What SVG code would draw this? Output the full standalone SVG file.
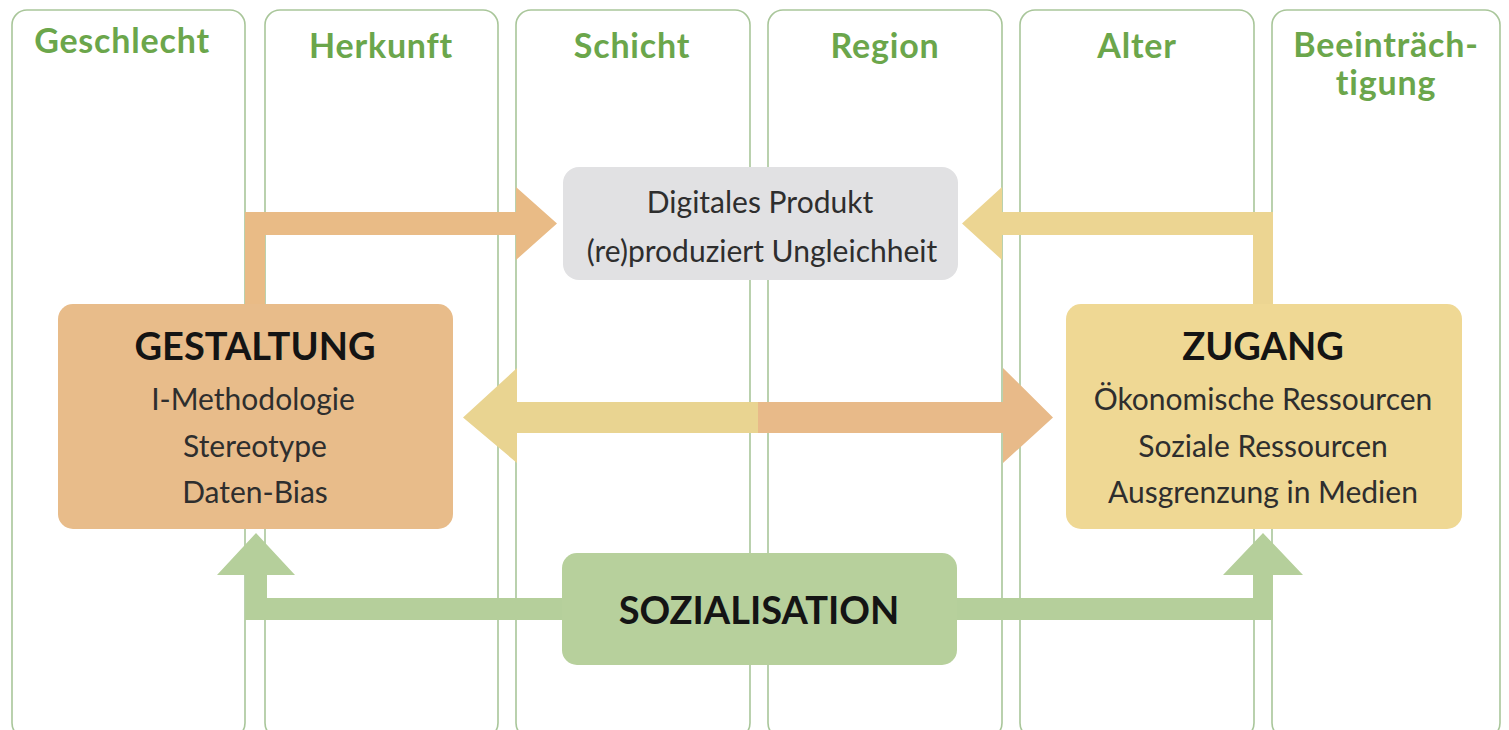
<svg xmlns="http://www.w3.org/2000/svg" width="1509" height="730" viewBox="0 0 1509 730">
<style>
.col{fill:#fff;stroke:#a9c69a;stroke-width:1.6}
.hdr{font-family:Lato,"Open Sans","Liberation Sans",sans-serif;font-weight:700;font-size:34px;letter-spacing:0.8px;fill:#6ba64b;text-anchor:middle}
.ttl{font-family:Lato,"Open Sans","Liberation Sans",sans-serif;font-weight:700;font-size:38px;fill:#141414;text-anchor:middle}
.txt{font-family:Lato,"Open Sans","Liberation Sans",sans-serif;font-weight:400;font-size:30px;fill:#2e2e2e;text-anchor:middle}
</style>
<rect width="1509" height="730" fill="#fff"/>
<g id="columns">
<g id="col-geschlecht"><rect class="col" x="12" y="10" width="233" height="728" rx="15"/><text class="hdr" x="122" y="53">Geschlecht</text></g>
<g id="col-herkunft"><rect class="col" x="265" y="10" width="233" height="728" rx="15"/><text class="hdr" x="381" y="58">Herkunft</text></g>
<g id="col-schicht"><rect class="col" x="516" y="10" width="234" height="728" rx="15"/><text class="hdr" x="632" y="58">Schicht</text></g>
<g id="col-region"><rect class="col" x="768" y="10" width="234" height="728" rx="15"/><text class="hdr" x="885" y="58">Region</text></g>
<g id="col-alter"><rect class="col" x="1020" y="10" width="234" height="728" rx="15"/><text class="hdr" x="1137" y="58">Alter</text></g>
<g id="col-beeintraechtigung"><rect class="col" x="1272" y="10" width="228" height="728" rx="15"/><text class="hdr" x="1386" y="57">Beeinträch-</text><text class="hdr" x="1386" y="95">tigung</text></g>
</g>
<g id="connectors">
<path d="M245,305 V212 H516 V187 L557,223.5 L516,260 V235 H265 V305 Z" fill="#e9bb86"/>
<path d="M1273,305 V212 H1002 V187 L962,223.5 L1002,260 V235 H1253 V305 Z" fill="#ecd592"/>
<path d="M760,402 H517 V368 L463,417.5 L517,463 V433 H760 Z" fill="#e9d491"/>
<path d="M758,402 H1003 V368 L1053,417.5 L1003,463 V433 H758 Z" fill="#e8ba89"/>
<path d="M565,598 H267 V575 H295 L256,533 L217,575 H245 V620 H565 Z" fill="#b5cf9b"/>
<path d="M955,598 H1253 V575 H1223 L1263,533 L1303,575 H1273 V620 H955 Z" fill="#b5cf9b"/>
</g>
<g id="produkt"><rect x="563" y="167" width="395" height="113" rx="16" fill="#e1e1e3"/><text class="txt" x="760" y="213">Digitales Produkt</text><text class="txt" x="762" y="262">(re)produziert Ungleichheit</text></g>
<g id="gestaltung"><rect x="58" y="304" width="395" height="225" rx="15" fill="#e8bc8a"/><text class="ttl" x="255" y="360">GESTALTUNG</text><text class="txt" x="253" y="410">I-Methodologie</text><text class="txt" x="255" y="457">Stereotype</text><text class="txt" x="255" y="503">Daten-Bias</text></g>
<g id="zugang"><rect x="1066" y="304" width="396" height="225" rx="15" fill="#efd894"/><text class="ttl" x="1263" y="360">ZUGANG</text><text class="txt" x="1263" y="410">Ökonomische Ressourcen</text><text class="txt" x="1263" y="457">Soziale Ressourcen</text><text class="txt" x="1263" y="503">Ausgrenzung in Medien</text></g>
<g id="sozialisation"><rect x="562" y="553" width="395" height="112" rx="15" fill="#b7d09c"/><text class="ttl" x="759" y="624">SOZIALISATION</text></g>
</svg>
